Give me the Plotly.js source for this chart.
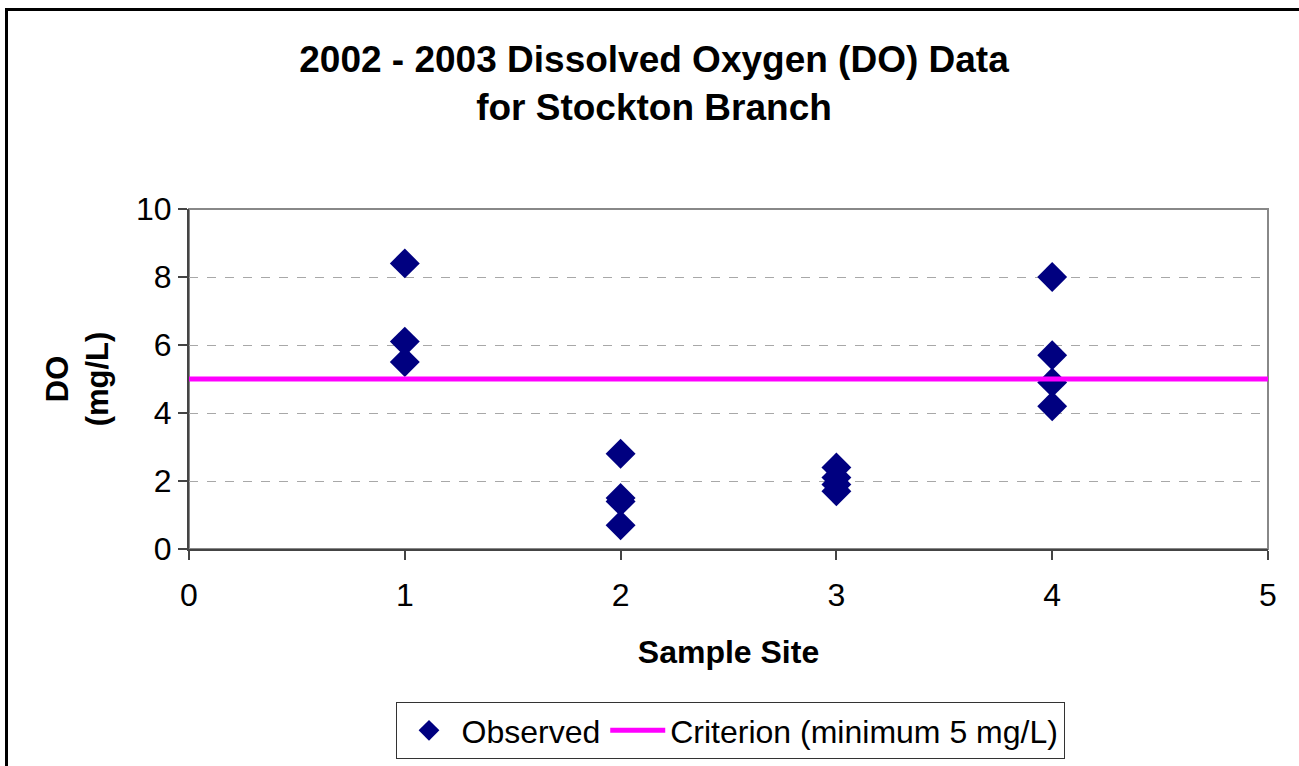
<!DOCTYPE html>
<html>
<head>
<meta charset="utf-8">
<script src="https://cdn.plot.ly/plotly-3.0.1.min.js"></script>
<style>
  html, body { margin: 0; padding: 0; background: #fff; overflow: hidden; }
  #chart { position: absolute; left: 0; top: 0; width: 1299px; height: 766px; }
  #frame { position: absolute; left: 5px; top: 8px; width: 1400px; height: 900px;
           border: 3px solid #000; pointer-events: none; box-sizing: border-box; }
</style>
</head>
<body>
<div id="chart"></div>
<div id="frame"></div>
<script>
// ---- data ----
const siteNumbers = [1, 1, 1, 2, 2, 2, 2, 3, 3, 3, 3, 4, 4, 4, 4];
const doObserved  = [8.4, 6.1, 5.5, 2.8, 1.5, 1.4, 0.7, 2.4, 2.1, 1.9, 1.7, 8.0, 5.7, 4.9, 4.2];
const criterionX  = [0, 5];
const criterionY  = [5, 5];
const xTickVals   = [0, 1, 2, 3, 4, 5];
const yTickVals   = [0, 2, 4, 6, 8, 10];

const FONT = 'Liberation Sans, Arial, sans-serif';

const traces = [
  {
    x: siteNumbers, y: doObserved, type: 'scatter', mode: 'markers',
    name: 'Observed',
    marker: { symbol: 'diamond', size: 23, color: '#000080', line: { width: 0 } },
    cliponaxis: false
  },
  {
    x: criterionX, y: criterionY, type: 'scatter', mode: 'lines',
    name: 'Criterion (minimum 5 mg/L)',
    line: { color: '#FF00FF', width: 5 },
    cliponaxis: false
  }
];

const layout = {
  width: 1299, height: 766,
  paper_bgcolor: 'rgba(0,0,0,0)', plot_bgcolor: '#fff',
  margin: { l: 189, r: 31, t: 209, b: 217 },
  font: { family: FONT, color: '#000', size: 32 },
  title: {
    text: '<b>2002 - 2003 Dissolved Oxygen (DO) Data<br>for Stockton Branch</b>',
    font: { family: FONT, size: 37, color: '#000' },
    x: 654 / 1299, xref: 'container', xanchor: 'center',
    y: 1 - 72 / 766, yref: 'container', yanchor: 'top'
  },
  xaxis: {
    range: [0, 5], tickvals: xTickVals, ticktext: xTickVals.map(String),
    ticks: 'outside', ticklen: 9, tickwidth: 2, tickcolor: '#444',
    ticklabelstandoff: 8, automargin: false,
    showline: true, linecolor: '#444', linewidth: 2,
    showgrid: false, zeroline: false,
    tickfont: { family: FONT, size: 32, color: '#000' },
    title: { text: '<b>Sample Site</b>', font: { family: FONT, size: 32, color: '#000' }, standoff: 28 }
  },
  yaxis: {
    range: [0, 10], tickvals: yTickVals, ticktext: yTickVals.map(String),
    ticks: 'outside', ticklen: 9, tickwidth: 2, tickcolor: '#444',
    automargin: false,
    showline: true, linecolor: '#444', linewidth: 2,
    showgrid: true, gridcolor: '#a8a8a8', gridwidth: 1, griddash: 'dash',
    zeroline: false,
    tickfont: { family: FONT, size: 32, color: '#000' },
    title: { text: '<b>DO<br>(mg/L)</b>', font: { family: FONT, size: 31, color: '#000' }, standoff: 18 }
  },
  shapes: [
    { type: 'rect', xref: 'paper', yref: 'paper', x0: 0, x1: 1, y0: 0, y1: 1,
      line: { color: '#888', width: 2 }, layer: 'below' }
  ],
  showlegend: true,
  legend: {
    orientation: 'h', x: 730 / 1299, xref: 'container', xanchor: 'center',
    y: 1 - 702 / 766, yref: 'container', yanchor: 'top',
    bordercolor: '#333', borderwidth: 1, bgcolor: '#fff',
    font: { family: FONT, size: 32, color: '#000' },
    itemwidth: 55, itemsizing: 'trace'
  }
};

Plotly.newPlot('chart', traces, layout, { displayModeBar: false, staticPlot: true });
</script>
</body>
</html>
